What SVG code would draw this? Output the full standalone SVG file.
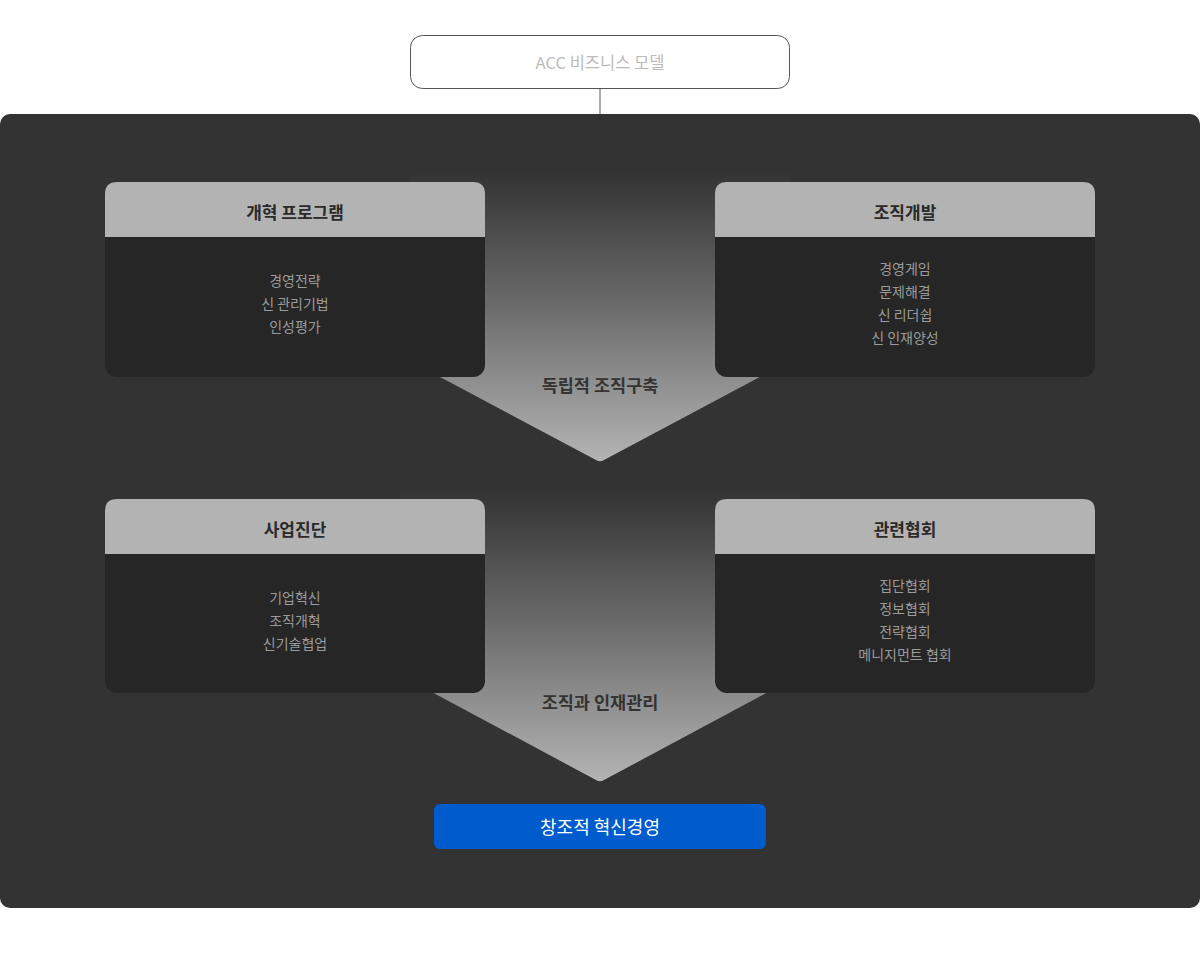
<svg xmlns="http://www.w3.org/2000/svg" width="1200" height="960" viewBox="0 0 1200 960">
  <defs>
    <linearGradient id="g1" gradientUnits="userSpaceOnUse" x1="0" y1="172" x2="0" y2="462">
      <stop offset="0" stop-color="#333333"/>
      <stop offset="0.45" stop-color="#6a6a6a"/>
      <stop offset="1" stop-color="#b4b4b4"/>
    </linearGradient>
    <linearGradient id="g2" gradientUnits="userSpaceOnUse" x1="0" y1="490" x2="0" y2="782">
      <stop offset="0" stop-color="#333333"/>
      <stop offset="0.45" stop-color="#6a6a6a"/>
      <stop offset="1" stop-color="#b4b4b4"/>
    </linearGradient>
  </defs>
  <style>
    .t { font-family: "Noto Sans CJK KR", "Noto Sans", sans-serif; text-anchor: middle; }
    .head { fill: #b3b3b3; }
    .body { fill: #262626; }
    .ht { font-size: 17px; font-weight: 700; fill: #2a2a2a; }
    .it { font-size: 14px; fill: #9a9a9a; }
    .al { font-size: 17.5px; font-weight: 600; fill: #333333; }
  </style>
  <rect width="1200" height="960" fill="#ffffff"/>

  <g id="connectors">
    <line x1="600" y1="88" x2="600" y2="114" stroke="#555555" stroke-width="1"/>
  </g>

  <g id="top">
    <rect x="410.5" y="35.5" width="379" height="53" rx="12" fill="#ffffff" stroke="#555555" stroke-width="1"/>
    <text class="t" x="600" y="68.5" font-size="16.5" fill="#bbbbbb">ACC 비즈니스 모델</text>
  </g>

  <g id="panel">
    <rect x="0" y="114" width="1200" height="794" rx="10" fill="#333333"/>
  </g>

  <g id="arrow1">
    <path d="M410 172 H790 V361 L604 460 Q600 462.5 596 460 L410 361 Z" fill="url(#g1)"/>
    <text class="t al" x="600" y="392">독립적 조직구축</text>
  </g>

  <g id="arrow2">
    <path d="M400 490 H800 V675 L604 780 Q600 782.5 596 780 L400 675 Z" fill="url(#g2)"/>
    <text class="t al" x="600" y="709">조직과 인재관리</text>
  </g>

  <g id="card1">
    <rect class="body" x="105" y="182" width="380" height="195" rx="12"/>
    <path class="head" d="M105 237 V194 Q105 182 117 182 H473 Q485 182 485 194 V237 Z"/>
    <text class="t ht" x="295" y="219">개혁 프로그램</text>
    <text class="t it" x="295" y="286">경영전략</text>
    <text class="t it" x="295" y="309">신 관리기법</text>
    <text class="t it" x="295" y="332">인성평가</text>
  </g>

  <g id="card2">
    <rect class="body" x="715" y="182" width="380" height="195" rx="12"/>
    <path class="head" d="M715 237 V194 Q715 182 727 182 H1083 Q1095 182 1095 194 V237 Z"/>
    <text class="t ht" x="905" y="219">조직개발</text>
    <text class="t it" x="905" y="274">경영게임</text>
    <text class="t it" x="905" y="297">문제해결</text>
    <text class="t it" x="905" y="320">신 리더쉽</text>
    <text class="t it" x="905" y="343">신 인재양성</text>
  </g>

  <g id="card3">
    <rect class="body" x="105" y="499" width="380" height="194" rx="12"/>
    <path class="head" d="M105 554 V511 Q105 499 117 499 H473 Q485 499 485 511 V554 Z"/>
    <text class="t ht" x="295" y="536">사업진단</text>
    <text class="t it" x="295" y="603">기업혁신</text>
    <text class="t it" x="295" y="626">조직개혁</text>
    <text class="t it" x="295" y="649">신기술협업</text>
  </g>

  <g id="card4">
    <rect class="body" x="715" y="499" width="380" height="194" rx="12"/>
    <path class="head" d="M715 554 V511 Q715 499 727 499 H1083 Q1095 499 1095 511 V554 Z"/>
    <text class="t ht" x="905" y="536">관련협회</text>
    <text class="t it" x="905" y="591">집단협회</text>
    <text class="t it" x="905" y="614">정보협회</text>
    <text class="t it" x="905" y="637">전략협회</text>
    <text class="t it" x="905" y="660">메니지먼트 협회</text>
  </g>

  <g id="result">
    <rect x="434" y="804" width="332" height="45" rx="6" fill="#005bcc"/>
    <text class="t" x="600" y="833.5" font-size="18" fill="#ffffff">창조적 혁신경영</text>
  </g>
</svg>
